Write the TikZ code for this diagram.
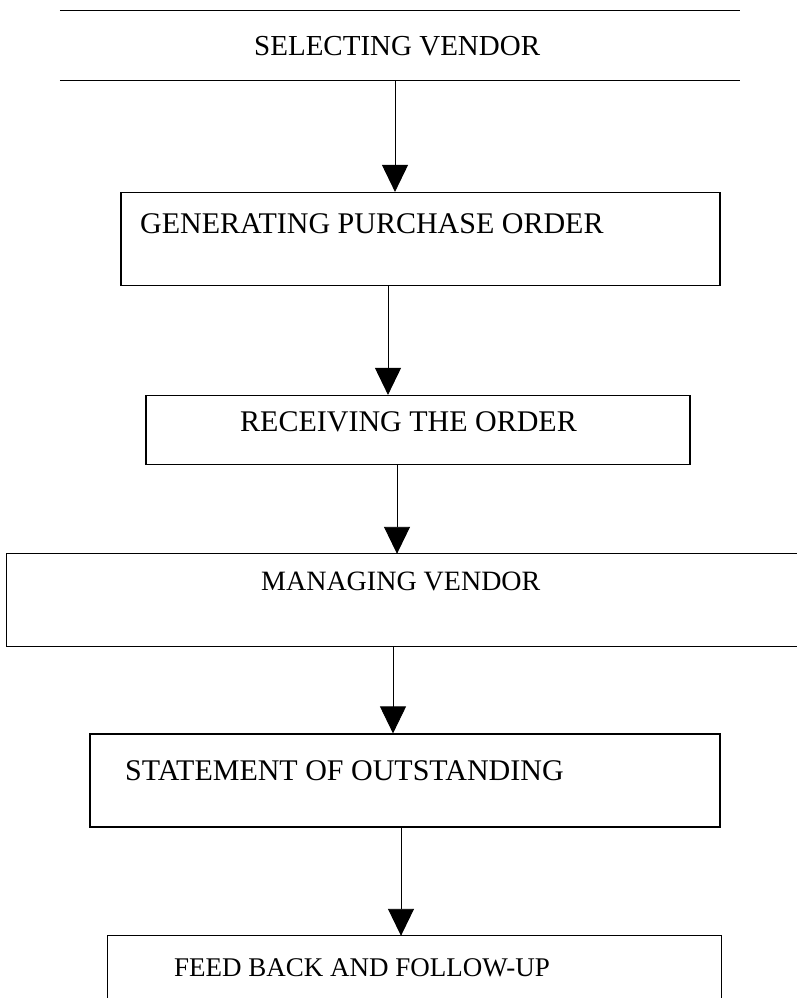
\documentclass[tikz,border=0pt]{standalone}
\usepackage{fontspec}
\setmainfont{Liberation Serif}
\usetikzlibrary{arrows.meta}
\begin{document}
\begin{tikzpicture}[x=1pt,y=-1pt,
  boxline/.style={line width=1.2pt,black},
  flow/.style={line width=0.9pt,-{Triangle[length=27pt,width=26pt]}},
  lbl/.style={font=\fontsize{30}{35}\selectfont,inner sep=0pt,anchor=west}]
\useasboundingbox (0,0) rectangle (797,998);
% boxes (named rectangles)
\node[inner sep=0pt,minimum width=680pt,minimum height=69pt] (b1) at (400,45.5) {};
\draw[boxline] (b1.north west) -- (b1.north east) (b1.south west) -- (b1.south east);
\node[boxline,draw,inner sep=0pt,minimum width=599pt,minimum height=93pt] (b2) at (420.5,239) {};
\node[boxline,draw,inner sep=0pt,minimum width=544pt,minimum height=69pt] (b3) at (418,430) {};
\node[inner sep=0pt,minimum width=800pt,minimum height=92pt] (b4) at (407,600) {};
\draw[boxline] (b4.north east) -- (b4.north west) -- (b4.south west) -- (b4.south east);
\node[boxline,draw,inner sep=0pt,minimum width=630pt,minimum height=93pt] (b5) at (405,780.5) {};
\node[inner sep=0pt,minimum width=613pt,minimum height=100pt] (b6) at (414.5,986) {};
\draw[boxline] (b6.south west) -- (b6.north west) -- (b6.north east) -- (b6.south east);
% texts
\node[lbl,font=\fontsize{29}{34}\selectfont] (t1) at (254,46) {SELECTING VENDOR};
\node[lbl] (t2) at (140,224) {GENERATING PURCHASE ORDER};
\node[lbl] (t3) at (240,422) {RECEIVING THE ORDER};
\node[lbl,font=\fontsize{28}{33}\selectfont] (t4) at (261,581) {MANAGING VENDOR};
\node[lbl] (t5) at (125,771) {STATEMENT OF OUTSTANDING};
\node[lbl,font=\fontsize{27}{32}\selectfont] (t6) at (174,968) {FEED BACK AND FOLLOW-UP};
% connectors
\draw[flow] (b1.south -| 395,0) -- (b2.north -| 395,0);
\draw[flow] (b2.south -| 388,0) -- (b3.north -| 388,0);
\draw[flow] (b3.south -| 397,0) -- (b4.north -| 397,0);
\draw[flow] (b4.south -| 393,0) -- (b5.north -| 393,0);
\draw[flow] (b5.south -| 401,0) -- (b6.north -| 401,0);
\end{tikzpicture}
\end{document}
